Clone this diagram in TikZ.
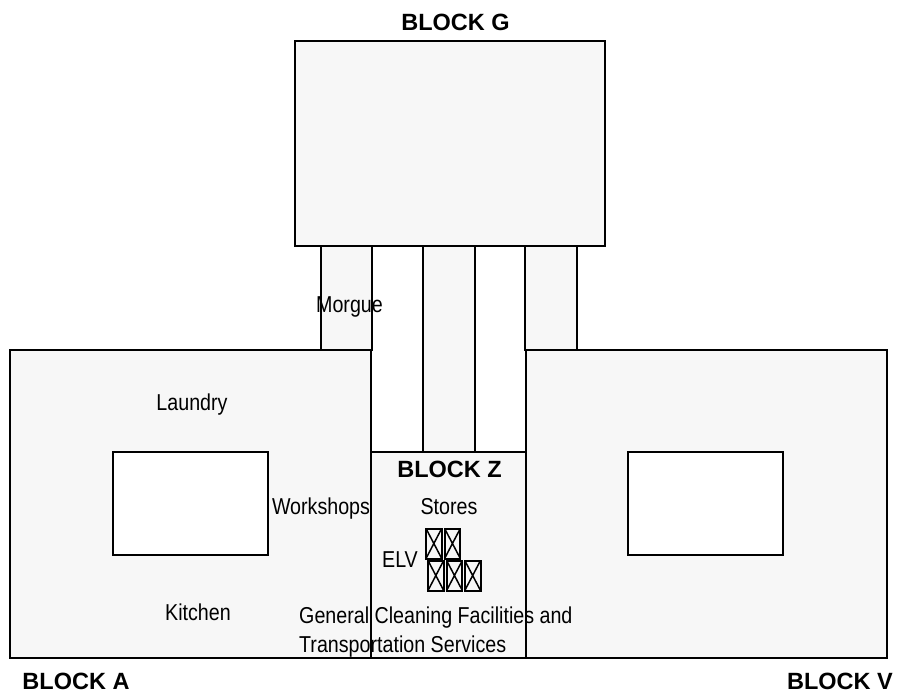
\documentclass[tikz,border=0pt]{standalone}
\usepackage{fontspec}
\setmainfont{Liberation Sans}
\newfontfamily\narrowface[FakeStretch=0.855]{Liberation Sans}
\tikzset{
  room/.style={draw=black,line width=1.4pt,fill=gray!6},
  court/.style={draw=black,line width=1.4pt,fill=white},
  cell/.style={draw=black,line width=2pt,fill=gray!6},
  lab/.style={inner sep=0pt,anchor=base,font=\narrowface\fontsize{23}{28.5}\selectfont},
  blk/.style={inner sep=0pt,anchor=base,font=\fontsize{23.5}{24}\selectfont\bfseries}
}
\newcommand{\elvcell}[2]{%
  \draw[cell] (#1,#2) rectangle ++(15.7,30);
  \draw[line width=1.5pt] (#1,#2) -- ++(15.7,30) (#1+15.7,#2) -- ++(-15.7,30);
}
\begin{document}
\begin{tikzpicture}[x=1pt,y=-1pt]
\useasboundingbox[fill=white] (0,0) rectangle (899,695);
% wings
\draw[room] (10,350) -- (371,350) -- (371,658) -- (10,658) -- cycle;
\draw[room] (526,350) -- (887,350) -- (887,658) -- (526,658) -- cycle;
\draw[court] (113,452) rectangle (268,555);
\draw[court] (628,452) rectangle (783,555);
% block z
\draw[room] (371,452) rectangle (526,658);
% links
\draw[room] (423,246) rectangle (475,452);
\draw[room] (321,246) rectangle (372,350);
\draw[room] (525,246) rectangle (577,350);
% block g
\draw[room] (295,41) rectangle (605,246);
% lift cells
\elvcell{426}{528.5}
\elvcell{444.6}{528.5}
\elvcell{428}{560.5}
\elvcell{446.6}{560.5}
\elvcell{464.8}{560.5}
% labels
\node[blk] (g) at (455.5,30.5) {BLOCK G};
\node[blk] (a) at (76,689) {BLOCK A};
\node[blk] (v) at (840,689) {BLOCK V};
\node[blk] (z) at (449.5,477.7) {BLOCK Z};
\node[lab] (morgue) at (349.5,312) {Morgue};
\node[lab] (laundry) at (192,410) {Laundry};
\node[lab] (workshops) at (321,514) {Workshops};
\node[lab] (stores) at (449,514) {Stores};
\node[lab] (elv) at (400,567.5) {ELV};
\node[lab] (kitchen) at (198,620) {Kitchen};
\node[lab,align=left,anchor=north west] (gen) at (299,607) {General Cleaning Facilities and\\Transportation Services};
\end{tikzpicture}
\end{document}
